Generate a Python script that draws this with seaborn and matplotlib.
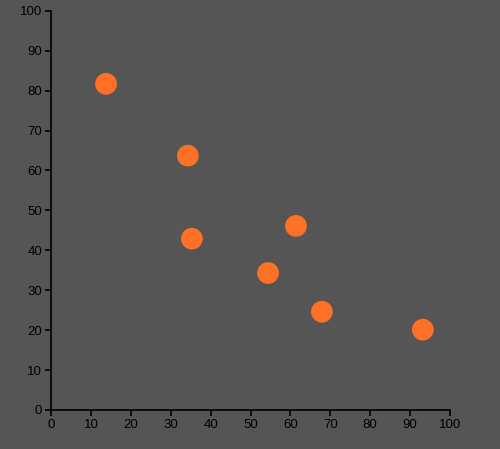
import numpy as np
import pandas as pd
import matplotlib
matplotlib.use('Agg')
import matplotlib.pyplot as plt
import seaborn as sns

# data
x_vals = [13.8, 34.3, 35.3, 61.4, 54.4, 67.9, 93.2]
y_vals = [81.7, 63.7, 42.9, 46.1, 34.3, 24.6, 20.1]
ticks = list(range(0, 101, 10))

df = pd.DataFrame({'x': x_vals, 'y': y_vals})

sns.set_style("ticks")
plt.rcParams['font.family'] = ['Liberation Sans', 'DejaVu Sans']

bg = '#555555'
fig = plt.figure(figsize=(5, 4.49), dpi=100, facecolor=bg)
ax = fig.add_axes([0.102, 0.087, 0.798, 0.889])
ax.set_facecolor(bg)

sns.scatterplot(data=df, x='x', y='y', ax=ax, s=245, color='#ff7127',
                edgecolor='none', linewidth=0)

ax.set_xlim(0, 100)
ax.set_ylim(0, 100)
ax.set_xticks(ticks)
ax.set_yticks(ticks)
ax.set_xlabel('')
ax.set_ylabel('')
sns.despine(ax=ax)
for s in ['left', 'bottom']:
    ax.spines[s].set_color('black')
    ax.spines[s].set_linewidth(1.2)
ax.tick_params(colors='black', labelsize=9.5, length=4.5, width=1.2, pad=2)

fig.savefig('out.png', dpi=100, facecolor=bg)
